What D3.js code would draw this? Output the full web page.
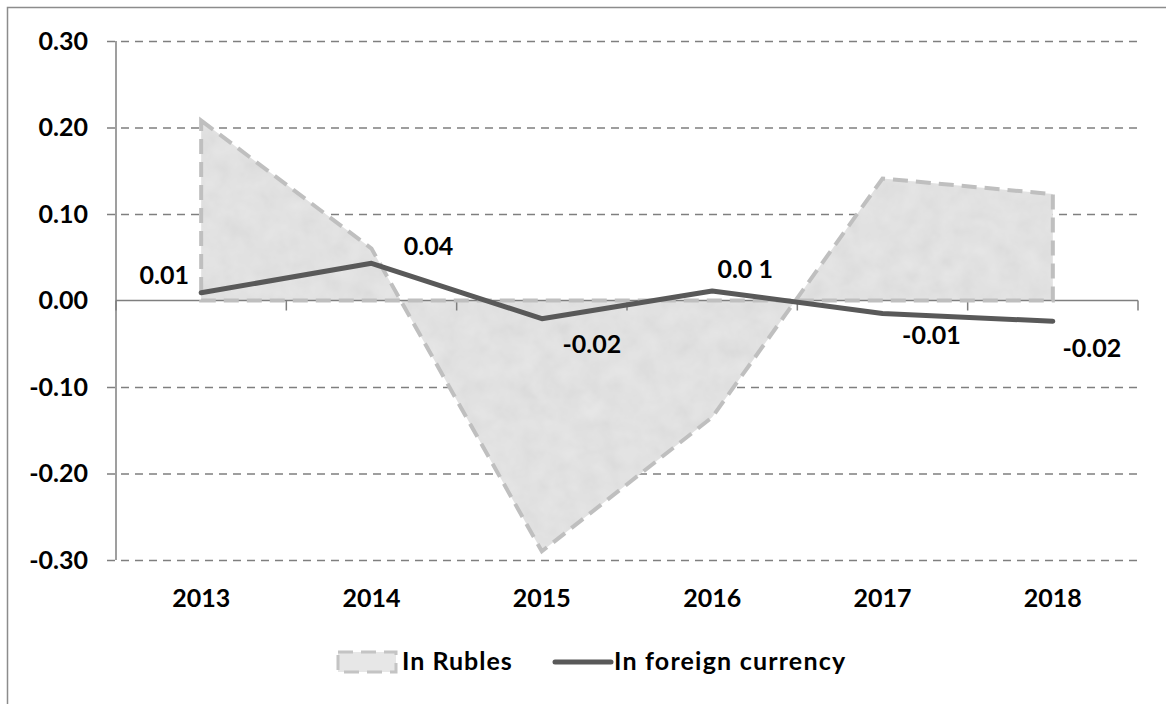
<!DOCTYPE html>
<html>
<head>
<meta charset="utf-8">
<script src="https://cdn.jsdelivr.net/npm/d3@7"></script>
<style>
  body { margin: 0; background: #fff; }
  svg text { font-family: Lato, "Open Sans", sans-serif; font-weight: 700; fill: #000; }
</style>
</head>
<body>
<svg id="viz"></svg>
<script>
var width = 1166;
var height = 704;

// chart values
var years = ["2013", "2014", "2015", "2016", "2017", "2018"];
var inRubles = [0.208, 0.06, -0.29, -0.135, 0.141, 0.123];
var inForeign = [0.009, 0.043, -0.021, 0.011, -0.015, -0.024];
var foreignLabels = ["0.01", "0.04", "-0.02", "0.0 1", "-0.01", "-0.02"];
var yTicks = [0.3, 0.2, 0.1, 0, -0.1, -0.2, -0.3];

// where each data label sits relative to its point (px)
var labelNudge = [[-37, -9], [57, -8], [50, 34], [33, -13], [49, 31], [39, 36]];

var plotLeft = 116, plotRight = 1138, plotTop = 41, plotBottom = 560;

var svg = d3.select("#viz").attr("width", width).attr("height", height);

var defs = svg.append("defs");
var grain = defs.append("filter").attr("id", "grain")
    .attr("x", 0).attr("y", 0).attr("width", "100%").attr("height", "100%");
grain.append("feTurbulence").attr("type", "fractalNoise")
    .attr("baseFrequency", 0.05).attr("numOctaves", 3).attr("seed", 4).attr("result", "n");
grain.append("feColorMatrix").attr("in", "n").attr("type", "matrix")
    .attr("values", "0.33 0.33 0.33 0 0  0.33 0.33 0.33 0 0  0.33 0.33 0.33 0 0  0 0 0 0 1")
    .attr("result", "g");
grain.append("feComposite").attr("in", "g").attr("in2", "SourceGraphic").attr("operator", "in");

// outer frame (runs off the right and bottom edges)
svg.append("rect")
    .attr("x", 7.5).attr("y", 7.5).attr("width", 1300).attr("height", 900)
    .attr("fill", "none").attr("stroke", "#8c8c8c").attr("stroke-width", 1.5);

var x = d3.scaleBand().domain(years).range([plotLeft, plotRight]);
var y = d3.scaleLinear().domain([-0.3, 0.3]).range([plotBottom, plotTop]);
var cx = function(d) { return x(d) + x.bandwidth() / 2; };

// plain hyphen for negatives, like the source
var fmt = function(v) { return d3.format(".2f")(v).replace("\u2212", "-"); };

// dashed gridlines with the little outside ticks
svg.append("g")
    .attr("transform", "translate(" + (plotLeft - 9) + ",0)")
    .call(d3.axisLeft(y).tickValues(yTicks.filter(function(v) { return v !== 0; }))
        .tickSize(-(plotRight - plotLeft + 9)).tickFormat(""))
    .call(function(g) {
        g.select(".domain").remove();
        g.selectAll(".tick line").attr("stroke", "#7f7f7f").attr("stroke-width", 1.3)
            .attr("stroke-dasharray", "8,6");
    });

// y labels
svg.append("g").selectAll("text")
    .data(yTicks)
    .enter()
    .append("text")
    .attr("x", 88)
    .attr("y", function(d) { return y(d); })
    .attr("dy", "0.35em")
    .attr("text-anchor", "end")
    .style("font-size", "25px")
    .text(fmt);

// y axis line
svg.append("line")
    .attr("x1", plotLeft).attr("x2", plotLeft).attr("y1", plotTop).attr("y2", plotBottom)
    .attr("stroke", "#7f7f7f").attr("stroke-width", 1.5);

// rubles area
var area = d3.area()
    .x(function(d, i) { return cx(years[i]); })
    .y0(y(0))
    .y1(function(d) { return y(d); });

svg.append("path")
    .datum(inRubles)
    .attr("d", area)
    .attr("fill", "#e7e7e7");

svg.append("path")
    .datum(inRubles)
    .attr("d", area)
    .attr("fill", "#fff")
    .attr("filter", "url(#grain)")
    .attr("opacity", 0.12);

// zero axis with ticks on band edges
svg.append("line")
    .attr("x1", plotLeft).attr("x2", plotRight).attr("y1", y(0)).attr("y2", y(0))
    .attr("stroke", "#7f7f7f").attr("stroke-width", 1.5);

var edges = years.map(function(d) { return x(d); }).concat([plotRight]);
svg.append("g").selectAll("line")
    .data(edges)
    .enter()
    .append("line")
    .attr("x1", function(d) { return d; }).attr("x2", function(d) { return d; })
    .attr("y1", y(0)).attr("y2", y(0) + 10)
    .attr("stroke", "#7f7f7f").attr("stroke-width", 1.5);

svg.append("path")
    .datum(inRubles)
    .attr("d", area)
    .attr("fill", "none")
    .attr("stroke", "#bfbfbf")
    .attr("stroke-width", 4)
    .attr("stroke-dasharray", "15,8");

// foreign currency line
var line = d3.line()
    .x(function(d, i) { return cx(years[i]); })
    .y(function(d) { return y(d); });

svg.append("path")
    .datum(inForeign)
    .attr("d", line)
    .attr("fill", "none")
    .attr("stroke", "#595959")
    .attr("stroke-width", 5)
    .attr("stroke-linejoin", "round")
    .attr("stroke-linecap", "round");

// data labels
svg.append("g").selectAll("text")
    .data(inForeign)
    .enter()
    .append("text")
    .attr("x", function(d, i) { return cx(years[i]) + labelNudge[i][0]; })
    .attr("y", function(d, i) { return y(d) + labelNudge[i][1]; })
    .attr("text-anchor", "middle")
    .style("font-size", "25px")
    .text(function(d, i) { return foreignLabels[i]; });

// category labels
svg.append("g").selectAll("text")
    .data(years)
    .enter()
    .append("text")
    .attr("x", cx)
    .attr("y", 607)
    .attr("text-anchor", "middle")
    .style("font-size", "25px")
    .text(function(d) { return d; });

// legend
var legend = svg.append("g");
legend.append("rect")
    .attr("x", 338).attr("y", 652).attr("width", 58).attr("height", 20)
    .attr("fill", "#e7e7e7")
    .attr("stroke", "#c4c4c4").attr("stroke-width", 3)
    .attr("stroke-dasharray", "15,8");
legend.append("text")
    .attr("x", 402).attr("y", 670)
    .style("font-size", "25px").style("letter-spacing", "1px")
    .text("In Rubles");
legend.append("line")
    .attr("x1", 555).attr("x2", 611).attr("y1", 662).attr("y2", 662)
    .attr("stroke", "#595959").attr("stroke-width", 5).attr("stroke-linecap", "round");
legend.append("text")
    .attr("x", 614).attr("y", 670)
    .style("font-size", "25px").style("letter-spacing", "1.2px")
    .text("In foreign currency");
</script>
</body>
</html>
